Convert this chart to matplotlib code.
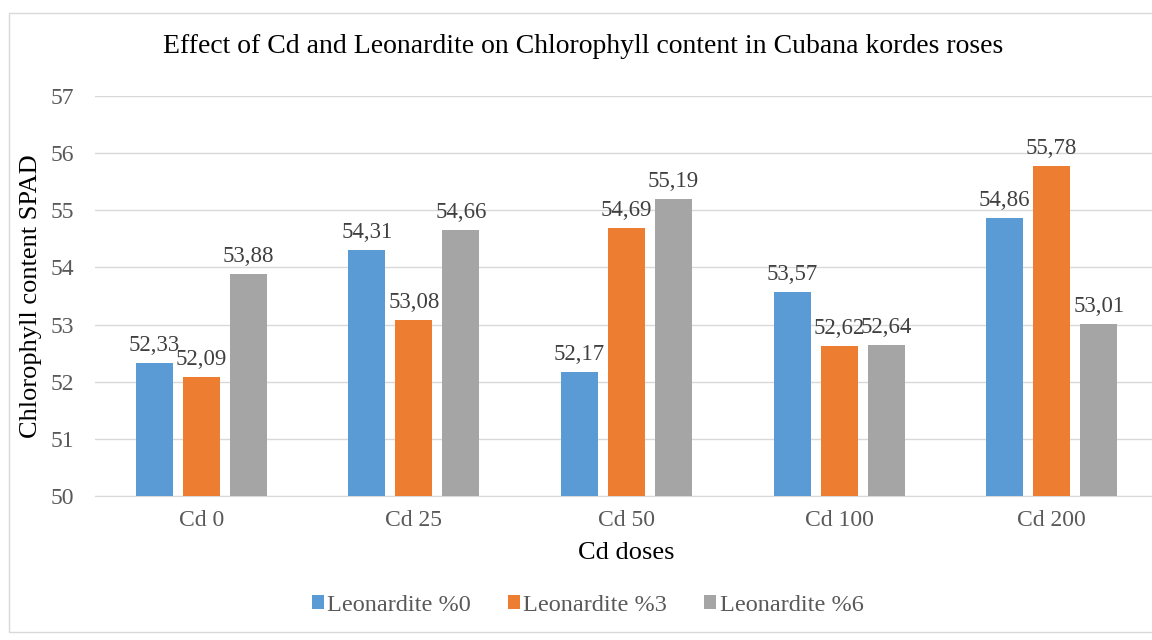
import numpy as np
import matplotlib.pyplot as plt
from matplotlib.patches import Rectangle

plt.rcParams['font.family'] = ['Liberation Serif', 'DejaVu Serif']

# data
doses = ['Cd 0', 'Cd 25', 'Cd 50', 'Cd 100', 'Cd 200']
leo0 = [52.33, 54.31, 52.17, 53.57, 54.86]
leo3 = [52.09, 53.08, 54.69, 52.62, 55.78]
leo6 = [53.88, 54.66, 55.19, 52.64, 53.01]
series_names = ['Leonardite %0', 'Leonardite %3', 'Leonardite %6']
colors = ['#5B9BD5', '#ED7D31', '#A5A5A5']

fig = plt.figure(figsize=(11.52, 6.4), dpi=100)
# chart is cropped on the right, so the axes run past the image edge
ax = fig.add_axes([0.0825, 0.225, 0.9227, 0.625])

x = np.arange(len(doses))
w = 0.174
step = 0.221
for i, (vals, name, c) in enumerate(zip([leo0, leo3, leo6], series_names, colors)):
    pos = x + (i - 1) * step
    ax.bar(pos, [v - 50 for v in vals], width=w, bottom=50, color=c, label=name, zorder=3)
    for p, v in zip(pos, vals):
        ax.annotate(f'{v:.2f}'.replace('.', ','), (p, v), xytext=(0, 5),
                    textcoords='offset points', ha='center', va='bottom',
                    fontsize=16.5, color='#404040')

ax.set_ylim(50, 57)
ax.set_xlim(-0.5, len(doses) - 0.5)
ax.set_yticks(range(50, 58))
ax.set_xticks(x)
ax.set_xticklabels(doses)
ax.tick_params(axis='both', length=0, labelsize=17, colors='#595959')
ax.tick_params(axis='y', pad=15)
ax.tick_params(axis='x', pad=10)
ax.yaxis.grid(True, color='#D9D9D9', linewidth=1, zorder=0)
for s in ['top', 'right', 'left']:
    ax.spines[s].set_visible(False)
ax.spines['bottom'].set_color('#D9D9D9')

ax.set_ylabel('Chlorophyll content SPAD', fontsize=19, color='#000000', labelpad=6)
ax.set_xlabel('Cd doses', fontsize=19, color='#000000', labelpad=8)
fig.text(0.506, 0.927, 'Effect of Cd and Leonardite on Chlorophyll content in Cubana kordes roses',
         ha='center', va='center', fontsize=20)

fig.legend(loc='center', bbox_to_anchor=(0.51, 0.054), ncol=3, frameon=False,
           fontsize=17.5, handlelength=0.5, handleheight=0.5, columnspacing=1.5,
           handletextpad=0.15, labelcolor='#595959')

fig.patches.append(Rectangle((0.008, 0.012), 1.2, 0.968, transform=fig.transFigure,
                             fill=False, edgecolor='#D9D9D9', linewidth=1))

fig.savefig('out.png', dpi=100)
